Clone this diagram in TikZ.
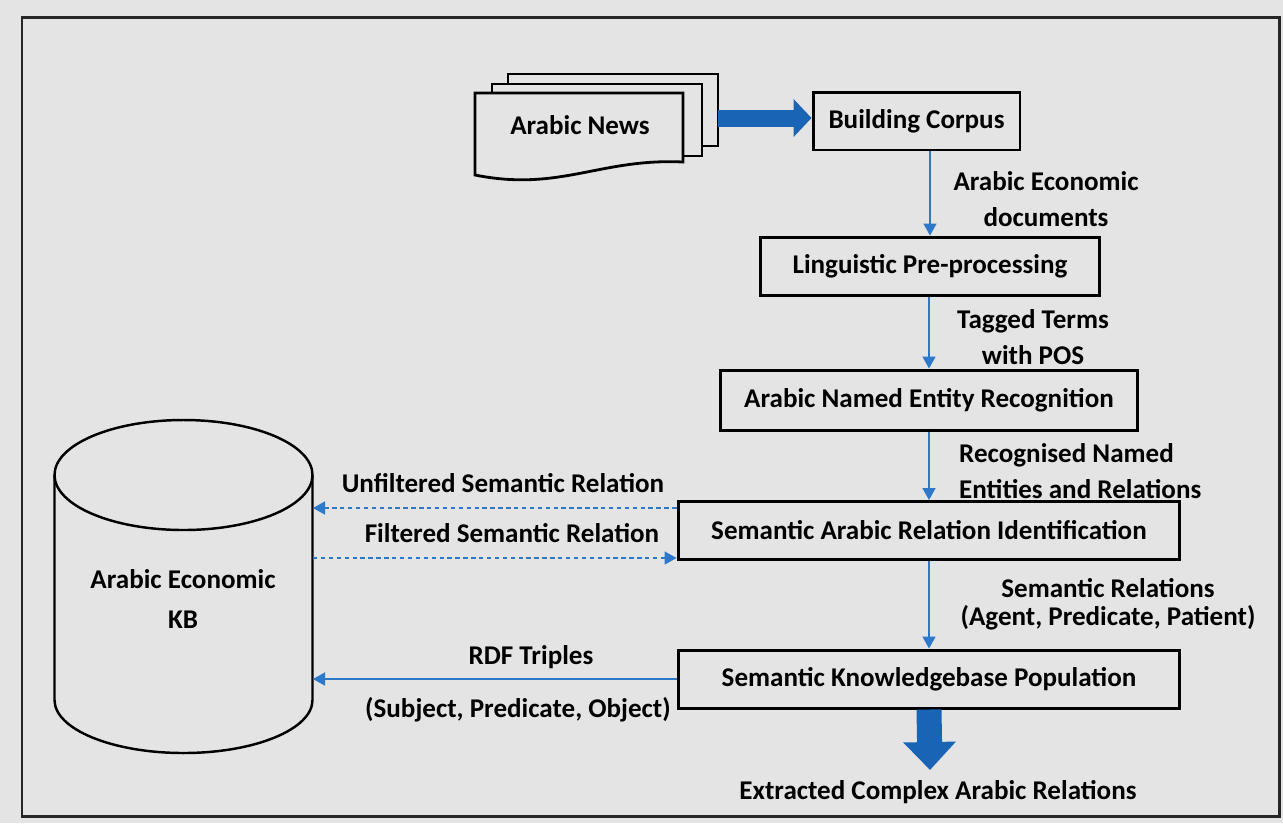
\documentclass[tikz,border=0pt]{standalone}
\usepackage{fontspec}
\setmainfont{Carlito}
\usetikzlibrary{arrows.meta}
\definecolor{Bg}{RGB}{228,228,228}
\definecolor{Flow}{RGB}{45,120,200}
\definecolor{Bold}{RGB}{25,100,180}

\begin{document}
\begin{tikzpicture}[x=.02cm,y=-.02cm,
  every node/.style={font=\bfseries\fontsize{15.4}{20.4}\selectfont},
  stage/.style={draw,line width=1.7pt,minimum height=1.16cm,inner sep=0pt},
  flow/.style={-{Triangle[length=.24cm,width=.26cm]},Flow,line width=.9pt},
  relflow/.style={flow,dash pattern=on 2.5pt off 2pt},
  bigright/.style={Bold,line width=.34cm,-{Triangle[length=.36cm,width=.74cm]}},
  bigdown/.style={Bold,line width=.5cm,-{Triangle[length=.56cm,width=1.02cm]}}]
\fill[Bg] (0,0) rectangle (1283,823);
\useasboundingbox (0,0) rectangle (1283,823);
\draw[line width=1.7pt,black!85] (22,17) rectangle (1279,816);

\foreach \dx/\dy in {33/-19,17/-9}
  \filldraw[fill=Bg,line width=1.6pt] (475+\dx,93+\dy) rectangle +(210,72);
\filldraw[fill=Bg,line width=1.6pt] (475,93) -- (683,93) -- (683,162)
  .. controls (600,158) and (560,192) .. (475,175) -- cycle;
\node (news) at (580,125) {Arabic News};
\coordinate (newsR) at (718,118);

\node[stage,minimum width=4.14cm] (corpus) at (916.5,121) {Building Corpus};
\node[stage,minimum width=6.8cm] (lingu) at (930,266) {Linguistic Pre-processing};
\node[stage,minimum width=8.36cm,minimum height=1.2cm] (aner) at (929,400) {Arabic Named Entity Recognition};
\node[stage,minimum width=10.04cm] (sari) at (929,530.5) {Semantic Arabic Relation Identification};
\node[stage,minimum width=10.04cm] (skbp) at (929,679) {Semantic Knowledgebase Population};

\draw[bigright] (newsR) -- (corpus.west |- newsR);
\foreach \a/\b in {corpus/lingu,lingu/aner,aner/sari,sari/skbp}
  \draw[flow] (\a.south -| \b.north) -- (\b.north);

\node[align=center] (docs) at (1046,199) {Arabic Economic\\documents};
\node[align=center] (pos) at (1033,337) {Tagged Terms\\with POS};
\node[align=left,anchor=west] (ents) at (953,471) {Recognised Named\\Entities and Relations};
\node[align=center,font=\bfseries\fontsize{15.4}{15.8}\selectfont] (rels) at (1108,604) {Semantic Relations\\(Agent, Predicate, Patient)};

\draw[line width=1.4pt] (54.5,475) -- (54.5,700) arc[start angle=180,end angle=0,x radius=129,y radius=53] -- (312.5,475);
\draw[line width=1.4pt] (183.5,475) ellipse [x radius=129,y radius=55];
\node[align=center,font=\bfseries\fontsize{15.4}{22.7}\selectfont] (kb) at (183,599) {Arabic Economic\\KB};
\coordinate (kbU) at (313,508);
\coordinate (kbF) at (313,558);
\coordinate (kbR) at (313,679);

\draw[relflow] (sari.west |- kbU) -- (kbU);
\draw[relflow] (kbF) -- (sari.west |- kbF);
\draw[flow] (skbp.west |- kbR) -- (kbR);
\node (unf) at (503,483) {Unfiltered Semantic Relation};
\node (fil) at (512,533) {Filtered Semantic Relation};
\node (rdf) at (531,657) {RDF Triples};
\node (spo) at (518,710) {(Subject, Predicate, Object)};

\node (out) at (938,792) {Extracted Complex Arabic Relations};
\coordinate (outTip) at (930,770);
\draw[bigdown] (skbp.south) -- (outTip);
\end{tikzpicture}
\end{document}
